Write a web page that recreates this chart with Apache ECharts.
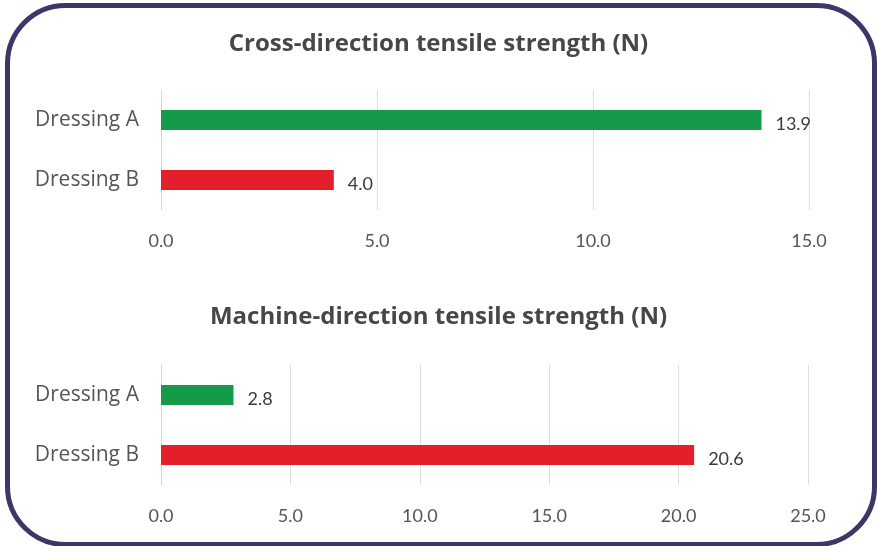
<!DOCTYPE html>
<html>
<head>
<meta charset="utf-8">
<script src="https://cdn.jsdelivr.net/npm/echarts@6/dist/echarts.min.js"></script>
<style>
  html, body { margin: 0; padding: 0; background: #ffffff; }
  #chart { width: 877px; height: 546px; }
</style>
</head>
<body>
<div id="chart"></div>
<script>
// Tensile strength of two dressings, in newtons
const categories = ['Dressing A', 'Dressing B'];
const crossValues = [13.9, 4.0];
const machineValues = [2.8, 20.6];
const barColors = ['#149a48', '#e41e2b'];
const crossTitle = 'Cross-direction tensile strength (N)';
const machineTitle = 'Machine-direction tensile strength (N)';

const TEXT_FONT = '"Open Sans", Lato, sans-serif';
const NUM_FONT = 'Lato, "Open Sans", sans-serif';

function barData(values) {
  return values.map((v, i) => ({ value: v, itemStyle: { color: barColors[i] } }));
}

function valueAxis(gridIndex, max) {
  return {
    type: 'value', gridIndex: gridIndex, min: 0, max: max, interval: 5,
    axisLine: { show: false }, axisTick: { show: false },
    splitLine: { show: true, lineStyle: { color: '#dedede', width: 1 } },
    axisLabel: {
      color: '#555555', fontFamily: NUM_FONT, fontSize: 18, margin: 22,
      formatter: v => v.toFixed(1)
    }
  };
}

function categoryAxis(gridIndex) {
  return {
    type: 'category', gridIndex: gridIndex, data: categories, inverse: true,
    axisLine: { show: true, lineStyle: { color: '#d6d6d6', width: 1 } },
    axisTick: { show: false },
    axisLabel: { color: '#555555', fontFamily: TEXT_FONT, fontSize: 21, margin: 22 }
  };
}

function barSeries(idx, values) {
  return {
    type: 'bar', xAxisIndex: idx, yAxisIndex: idx,
    data: barData(values), barWidth: 20,
    label: {
      show: true, position: 'right', distance: 14, offset: [0, 4],
      color: '#3a3a3a', fontFamily: NUM_FONT, fontSize: 18,
      formatter: p => p.value.toFixed(1)
    }
  };
}

const titleStyle = { color: '#474747', fontFamily: TEXT_FONT, fontSize: 24, fontWeight: 'bold' };

const chart = echarts.init(document.getElementById('chart'), null, { renderer: 'canvas' });
chart.setOption({
  animation: false,
  backgroundColor: '#ffffff',
  title: [
    { text: crossTitle, left: 'center', top: 27, textStyle: titleStyle },
    { text: machineTitle, left: 'center', top: 300, textStyle: titleStyle }
  ],
  graphic: [{
    type: 'rect', left: 5, top: 3, z: 100, silent: true,
    shape: { width: 867, height: 539, r: 58 },
    style: { fill: 'none', stroke: '#3c3768', lineWidth: 5 }
  }],
  grid: [
    { left: 161, width: 648, top: 90, height: 120 },
    { left: 161, width: 647, top: 365, height: 120 }
  ],
  xAxis: [valueAxis(0, 15), valueAxis(1, 25)],
  yAxis: [categoryAxis(0), categoryAxis(1)],
  series: [barSeries(0, crossValues), barSeries(1, machineValues)]
});
</script>
</body>
</html>
